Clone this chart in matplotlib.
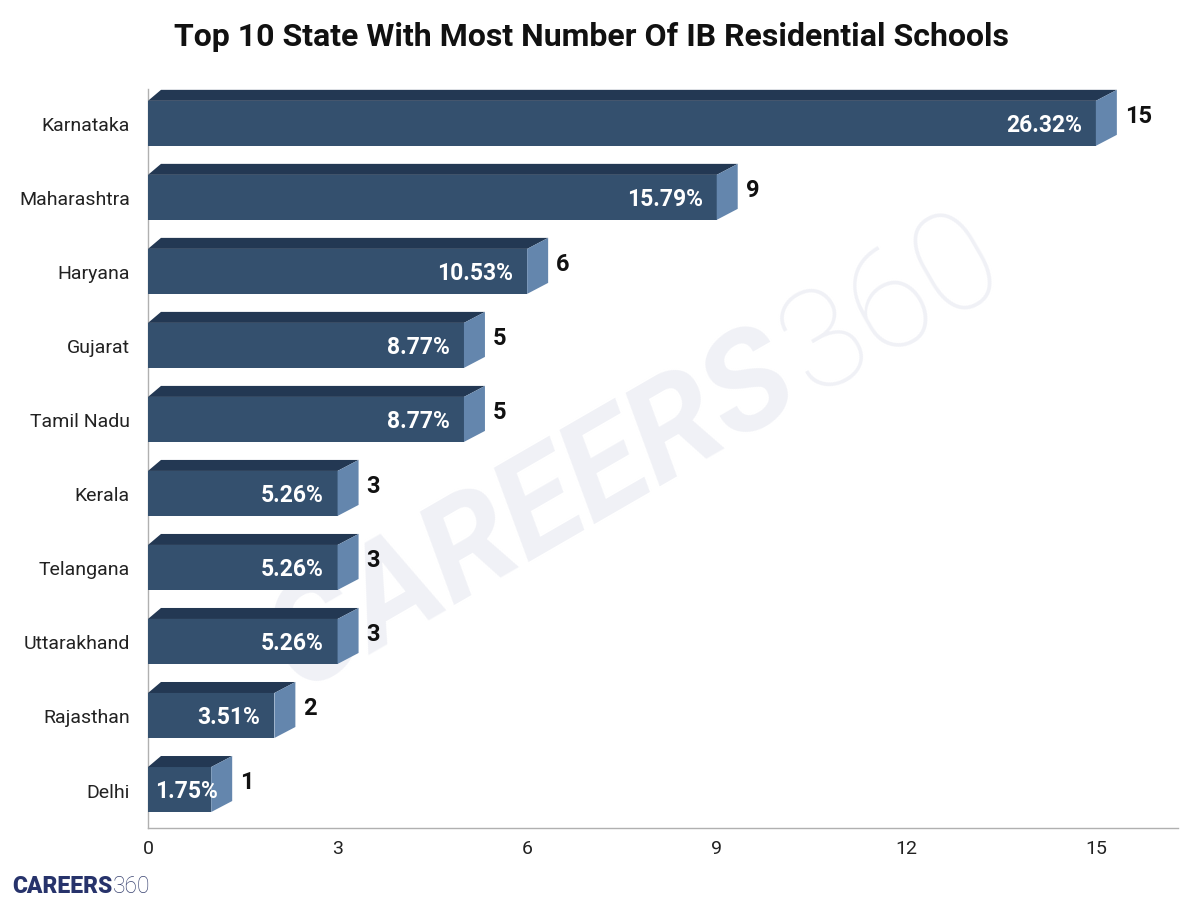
import matplotlib
matplotlib.use("Agg")
import matplotlib.pyplot as plt
from matplotlib.patches import Polygon

states = ["Karnataka", "Maharashtra", "Haryana", "Gujarat", "Tamil Nadu",
          "Kerala", "Telangana", "Uttarakhand", "Rajasthan", "Delhi"]
counts = [15, 9, 6, 5, 5, 3, 3, 3, 2, 1]
shares = ["26.32%", "15.79%", "10.53%", "8.77%", "8.77%",
          "5.26%", "5.26%", "5.26%", "3.51%", "1.75%"]
xticks = [0, 3, 6, 9, 12, 15]
title = "Top 10 State With Most Number Of IB Residential Schools"

FRONT = "#34506e"
TOP = "#233853"
SIDE = "#6486ad"

plt.rcParams["font.family"] = ["Roboto", "DejaVu Sans"]

W, H = 1200, 904
fig = plt.figure(figsize=(W / 100, H / 100), dpi=100)
ax = fig.add_axes([148 / W, 75 / H, (1178 - 148) / W, (814 - 75) / H])

n = len(states)
ypos = [n - 1 - i for i in range(n)]
xmax = 16.3
ylo, yhi = -0.52, n - 1 + 0.464
ax.set_xlim(0, xmax)
ax.set_ylim(ylo, yhi)

ax_w = (1178 - 148)
ax_h = (814 - 75)
px_x = xmax / ax_w
px_y = (yhi - ylo) / ax_h

bar_h = 45 * px_y
dxr = 21 * px_x
dxl = 13 * px_x
dy = 11 * px_y

for y, v in zip(ypos, counts):
    yb = y - bar_h / 2
    yt = y + bar_h / 2
    ax.add_patch(Polygon([(0, yb), (v, yb), (v, yt), (0, yt)],
                         closed=True, facecolor=FRONT, edgecolor="none", zorder=3))
    ax.add_patch(Polygon([(0, yt), (dxl, yt + dy), (v + dxr, yt + dy), (v, yt)],
                         closed=True, facecolor=TOP, edgecolor="none", zorder=3))
    ax.add_patch(Polygon([(v, yb), (v, yt), (v + dxr, yt + dy), (v + dxr, yb + dy)],
                         closed=True, facecolor=SIDE, edgecolor="none", zorder=3))
    ax.text(v + dxr + 8 * px_x, y + 8 * px_y, str(v), ha="left", va="center",
            fontsize=17, fontweight="bold", color="#111111", zorder=5)

pct_texts = []
for y, v, s in zip(ypos, counts, shares):
    t = ax.text(v - 14 * px_x, y - 1 * px_y, s, ha="right", va="center",
                fontsize=16.5, fontweight="bold", color="white", zorder=5)
    pct_texts.append(t)

fig.canvas.draw()
renderer = fig.canvas.get_renderer()
x0_disp = ax.transData.transform((0, 0))[0]
for t in pct_texts:
    bb = t.get_window_extent(renderer)
    if bb.x0 < x0_disp + 7:
        t.set_ha("left")
        t.set_x(7 * px_x)

ax.set_yticks(ypos)
ax.set_yticklabels(states, fontsize=14, color="#222222")
ax.set_xticks(xticks)
ax.set_xticklabels([str(x) for x in xticks], fontsize=14, color="#222222")
ax.tick_params(axis="y", length=0, pad=13)
ax.tick_params(axis="x", length=0, pad=8)

for sp in ["top", "right"]:
    ax.spines[sp].set_visible(False)
for sp in ["left", "bottom"]:
    ax.spines[sp].set_color("#b0b0b0")
    ax.spines[sp].set_linewidth(1)

# watermark
wm_color = "#f0f1f6"
fig.text(805 / W, 1 - 400 / H, "CAREERS", ha="right", va="baseline", rotation=30,
         rotation_mode="anchor", fontsize=100, fontweight="bold", fontstyle="italic",
         color=wm_color, zorder=0)
fig.text(812 / W, 1 - 396 / H, "360", ha="left", va="baseline", rotation=30,
         rotation_mode="anchor", fontsize=100, fontweight="light",
         color=wm_color, zorder=0)
ax.set_zorder(1)
ax.patch.set_alpha(0)

fig.text(591 / W, 1 - 37 / H, title, ha="center", va="center",
         fontsize=23, fontweight="bold", color="#111111")

# logo
logo1 = fig.text(12 / W, 1 - 893 / H, "CAREERS", ha="left", va="baseline",
                 fontsize=16.5, fontweight="heavy", color="#27336b")
fig.canvas.draw()
bb = logo1.get_window_extent(fig.canvas.get_renderer())
fig.text((bb.x1 + 1) / W, 1 - 893 / H, "360", ha="left", va="baseline",
         fontsize=16.5, fontweight="light", color="#3a4472")

fig.savefig("out.png", dpi=100, facecolor="white")
